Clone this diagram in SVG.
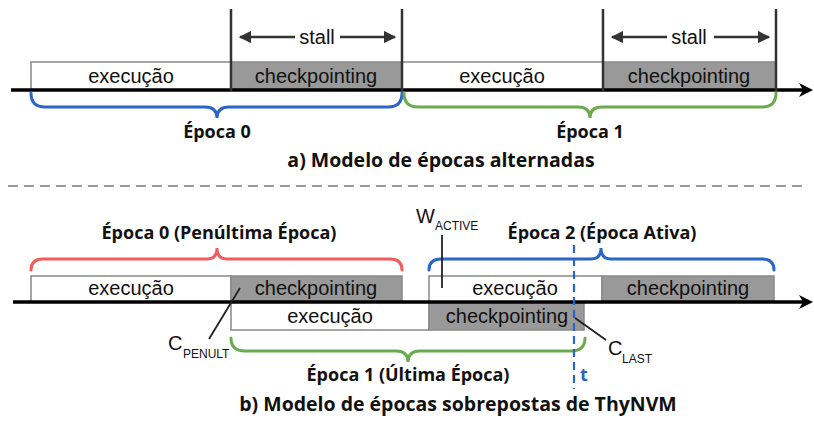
<svg xmlns="http://www.w3.org/2000/svg" width="814" height="425" viewBox="0 0 814 425">
<defs>
<style>
.box{stroke:#888;stroke-width:1.5}
.ex{fill:#fff}
.ck{fill:#999}
.lbl{font-family:"Liberation Sans",Arial,sans-serif;font-size:20px;fill:#111;text-anchor:middle}
.sub{font-family:"Liberation Sans",Arial,sans-serif;font-size:12px;fill:#111}
.big{font-family:"Liberation Sans",Arial,sans-serif;font-size:20px;fill:#111}
.bold{font-family:"Open Sans",Lato,sans-serif;font-weight:bold;font-size:18px;fill:#111;text-anchor:middle}
.title{font-family:"Open Sans",Lato,sans-serif;font-weight:bold;font-size:19.5px;fill:#111;text-anchor:middle}
.axis{stroke:#000;stroke-width:3.5;fill:none}
.vline{stroke:#333;stroke-width:2.5;fill:none}
.brace{fill:none;stroke-width:3;stroke-linecap:round}
.lead{stroke:#222;stroke-width:1.8;fill:none}
</style>
<marker id="sa" viewBox="0 0 10 10" refX="9" refY="5" markerWidth="5" markerHeight="5" orient="auto-start-reverse" markerUnits="strokeWidth">
<path d="M0,0 L10,5 L0,10 Z" fill="#333"/>
</marker>
</defs>

<!-- Part a -->
<g id="a-exec0"><rect class="box ex" x="31" y="62" width="200" height="28"/><text class="lbl" x="131" y="83">execução</text></g>
<g id="a-ckpt0"><rect class="box ck" x="231" y="62" width="171" height="28"/><text class="lbl" x="316" y="83">checkpointing</text></g>
<g id="a-exec1"><rect class="box ex" x="402" y="62" width="201" height="28"/><text class="lbl" x="502" y="83">execução</text></g>
<g id="a-ckpt1"><rect class="box ck" x="603" y="62" width="173" height="28"/><text class="lbl" x="689" y="83">checkpointing</text></g>

<g id="a-connectors">
<line class="axis" x1="11" y1="90" x2="804" y2="90"/>
<path d="M813,90 L799,83 L803,90 L799,97 Z" fill="#000"/>
<line class="vline" x1="231" y1="9" x2="231" y2="91"/>
<line class="vline" x1="402" y1="9" x2="402" y2="91"/>
<line class="vline" x1="603" y1="9" x2="603" y2="91"/>
<line class="vline" x1="776" y1="9" x2="776" y2="91"/>
<line x1="295" y1="37" x2="240" y2="37" stroke="#333" stroke-width="2.5" marker-end="url(#sa)"/>
<line x1="340" y1="37" x2="395" y2="37" stroke="#333" stroke-width="2.5" marker-end="url(#sa)"/>
<line x1="667" y1="37" x2="612" y2="37" stroke="#333" stroke-width="2.5" marker-end="url(#sa)"/>
<line x1="714" y1="37" x2="769" y2="37" stroke="#333" stroke-width="2.5" marker-end="url(#sa)"/>
<path class="brace" stroke="#2b65c8" d="M31,93 Q31,107 45,107 L205,107 Q217,107 217,118 Q217,107 229,107 L388,107 Q402,107 402,93"/>
<path class="brace" stroke="#6aab4d" d="M404,93 Q404,107 418,107 L578,107 Q590,107 590,118 Q590,107 602,107 L762,107 Q776,107 776,93"/>
</g>
<text class="big" x="317" y="44" text-anchor="middle">stall</text>
<text class="big" x="689" y="44" text-anchor="middle">stall</text>
<text class="bold" x="217" y="138">Época 0</text>
<text class="bold" x="590" y="138">Época 1</text>
<text class="title" x="441" y="167">a) Modelo de épocas alternadas</text>

<line x1="8" y1="186" x2="808" y2="186" stroke="#999" stroke-width="2" stroke-dasharray="10,6"/>

<!-- Part b -->
<g id="b-exec0"><rect class="box ex" x="31" y="276" width="200" height="26"/><text class="lbl" x="131" y="295">execução</text></g>
<g id="b-ckpt0"><rect class="box ck" x="231" y="276" width="171" height="26"/><text class="lbl" x="316" y="295">checkpointing</text></g>
<g id="b-exec1"><rect class="box ex" x="231" y="302" width="198" height="28"/><text class="lbl" x="330" y="323">execução</text></g>
<g id="b-ckpt1"><rect class="box ck" x="429" y="302" width="155" height="28"/><text class="lbl" x="507" y="323">checkpointing</text></g>
<g id="b-exec2"><rect class="box ex" x="429" y="276" width="173" height="26"/><text class="lbl" x="515" y="295">execução</text></g>
<g id="b-ckpt2"><rect class="box ck" x="602" y="276" width="172" height="26"/><text class="lbl" x="688" y="295">checkpointing</text></g>

<g id="b-connectors">
<line class="axis" x1="13" y1="302" x2="804" y2="302"/>
<path d="M813,302 L799,295 L803,302 L799,309 Z" fill="#000"/>
<path class="brace" stroke="#f25c5c" d="M31,270 Q31,259 43,259 L207,259 Q217,259 217,248 Q217,259 227,259 L390,259 Q402,259 402,270"/>
<path class="brace" stroke="#2b65c8" d="M429,270 Q429,259 441,259 L591,259 Q601,259 601,248 Q601,259 611,259 L762,259 Q774,259 774,270"/>
<path class="brace" stroke="#6aab4d" d="M231,338 Q231,351 245,351 L396,351 Q408,351 408,362 Q408,351 420,351 L571,351 Q585,351 585,338"/>
<line x1="574" y1="245" x2="574" y2="389" stroke="#2b65c8" stroke-width="2.2" stroke-dasharray="8,5"/>
<line class="lead" x1="442" y1="235" x2="442" y2="288"/>
<line class="lead" x1="209" y1="339" x2="240" y2="288"/>
<line class="lead" x1="575" y1="318" x2="606" y2="340"/>
</g>

<g id="w-active"><text class="big" x="416" y="223">W</text><text class="sub" x="435" y="230">ACTIVE</text></g>
<g id="c-penult"><text class="big" x="168" y="350">C</text><text class="sub" x="183" y="358">PENULT</text></g>
<g id="c-last"><text class="big" x="608" y="355">C</text><text class="sub" x="622" y="363">LAST</text></g>
<text x="584" y="381" font-family="'Open Sans',Lato,sans-serif" font-weight="bold" font-size="18" fill="#2b65c8" text-anchor="middle">t</text>

<text class="bold" x="219" y="239">Época 0 (Penúltima Época)</text>
<text class="bold" x="602" y="239">Época 2 (Época Ativa)</text>
<text class="bold" x="408" y="381">Época 1 (Última Época)</text>
<text class="title" x="458" y="411">b) Modelo de épocas sobrepostas de ThyNVM</text>
</svg>
